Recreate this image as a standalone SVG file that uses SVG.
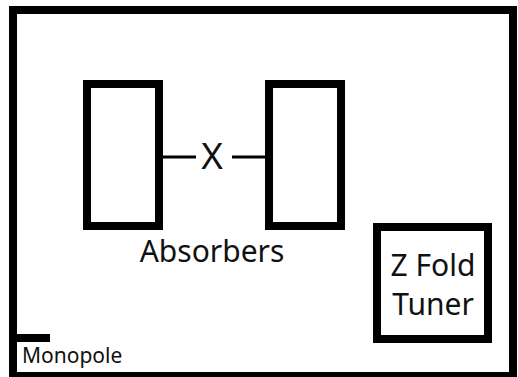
<svg xmlns="http://www.w3.org/2000/svg" width="518" height="377" viewBox="0 0 518 377">
  <style>
    .box { fill: #ffffff; stroke: #000000; stroke-width: 8; }
    .wire { stroke: #000000; stroke-width: 3; fill: none; }
    .lbl { font-family: "Noto Sans", "Open Sans", sans-serif; fill: #111111; }
  </style>
  <rect x="0" y="0" width="518" height="377" fill="#ffffff"/>

  <!-- outer enclosure -->
  <g id="enclosure">
    <rect class="box" x="13" y="10" width="500" height="366"/>
  </g>

  <!-- absorber pair -->
  <g id="absorber-left">
    <rect class="box" x="87" y="84" width="72" height="142"/>
  </g>
  <g id="absorber-right">
    <rect class="box" x="269" y="84" width="72" height="142"/>
  </g>
  <g id="absorbers-label">
    <text class="lbl" x="212" y="262" font-size="30" text-anchor="middle">Absorbers</text>
  </g>

  <g id="connectors">
    <line class="wire" x1="163" y1="157" x2="196" y2="157"/>
    <line class="wire" x1="232" y1="157" x2="265" y2="157"/>
  </g>
  <g id="coupler-x">
    <text class="lbl" x="212" y="169" font-size="37" text-anchor="middle">X</text>
  </g>

  <!-- tuner -->
  <g id="z-fold-tuner">
    <rect class="box" x="377" y="227" width="111" height="112"/>
    <text class="lbl" x="433" y="276" font-size="30" text-anchor="middle">Z Fold</text>
    <text class="lbl" x="433" y="315" font-size="30" text-anchor="middle">Tuner</text>
  </g>

  <!-- monopole -->
  <g id="monopole">
    <rect x="13" y="334" width="37" height="8" fill="#000000"/>
    <text class="lbl" x="22" y="363" font-size="21">Monopole</text>
  </g>
</svg>
